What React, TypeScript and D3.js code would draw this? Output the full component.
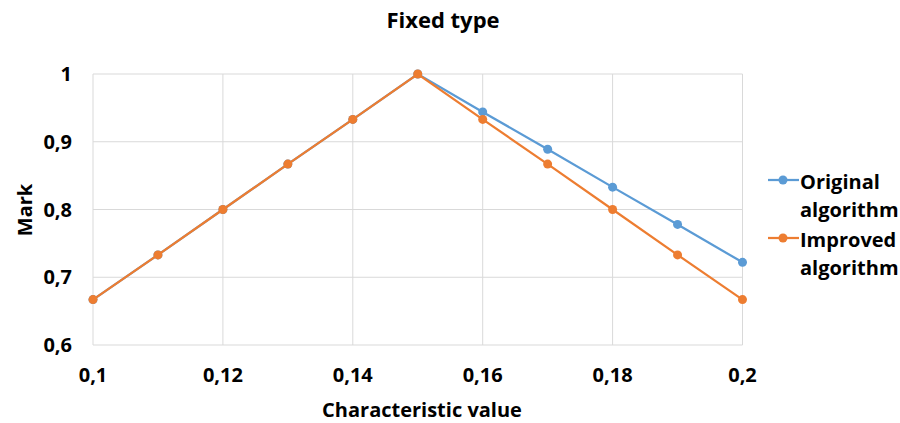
import React from "react";
import * as d3 from "d3";

const xValues = [0.1, 0.11, 0.12, 0.13, 0.14, 0.15, 0.16, 0.17, 0.18, 0.19, 0.2];
const originalValues = [0.667, 0.733, 0.8, 0.867, 0.933, 1, 0.944, 0.889, 0.833, 0.778, 0.722];
const improvedValues = [0.667, 0.733, 0.8, 0.867, 0.933, 1, 0.933, 0.867, 0.8, 0.733, 0.667];
const xTicks = [0.1, 0.12, 0.14, 0.16, 0.18, 0.2];
const yTicks = [0.6, 0.7, 0.8, 0.9, 1];
const seriesNames = [["Original", "algorithm"], ["Improved", "algorithm"]];
const seriesColors = ["#5B9BD5", "#ED7D31"];

const W = 900;
const H = 423;
const FONT = "'Open Sans', sans-serif";

function fmt(v: number): string {
  return String(+v.toFixed(2)).replace(".", ",");
}

export default function App() {
  const x = d3.scaleLinear().domain([0.1, 0.2]).range([93, 742.5]);
  const y = d3.scaleLinear().domain([0.6, 1]).range([345, 74]);
  const line = d3
    .line<number>()
    .x((_, i) => x(xValues[i]))
    .y((d) => y(d));
  const series = [originalValues, improvedValues];
  const legendY = [180, 238];

  return (
    <svg
      width={W}
      height={H}
      style={{ position: "absolute", left: 0, top: 0, background: "#fff" }}
      fontFamily={FONT}
      fontWeight="bold"
    >
      <rect width={W} height={H} fill="#fff" />
      {/* gridlines */}
      {yTicks.map((t) => (
        <line key={"gy" + t} x1={x(0.1)} x2={x(0.2)} y1={y(t)} y2={y(t)} stroke="#D9D9D9" strokeWidth={1} />
      ))}
      {xTicks.map((t) => (
        <line key={"gx" + t} x1={x(t)} x2={x(t)} y1={y(0.6)} y2={y(1)} stroke="#D9D9D9" strokeWidth={1} />
      ))}
      {/* y tick labels */}
      {yTicks.map((t) => (
        <text key={"ty" + t} x={72} y={y(t)} dy="0.36em" textAnchor="end" fontSize={20} fill="#000">
          {fmt(t)}
        </text>
      ))}
      {/* x tick labels */}
      {xTicks.map((t) => (
        <text key={"tx" + t} x={x(t)} y={382} textAnchor="middle" fontSize={20} fill="#000">
          {fmt(t)}
        </text>
      ))}
      {/* series */}
      {series.map((s, si) => (
        <g key={"s" + si}>
          <path d={line(s) || ""} fill="none" stroke={seriesColors[si]} strokeWidth={2.25} />
          {s.map((v, i) => (
            <circle key={i} cx={x(xValues[i])} cy={y(v)} r={4.5} fill={seriesColors[si]} />
          ))}
        </g>
      ))}
      {/* title */}
      <text x={443} y={28} textAnchor="middle" fontSize={22} fill="#000">
        Fixed type
      </text>
      {/* axis titles */}
      <text x={422} y={417} textAnchor="middle" fontSize={20} fill="#000">
        Characteristic value
      </text>
      <text transform="translate(32,210) rotate(-90)" textAnchor="middle" fontSize={20} fill="#000">
        Mark
      </text>
      {/* legend */}
      {seriesNames.map((names, i) => (
        <g key={"l" + i}>
          <line x1={768} x2={799} y1={legendY[i]} y2={legendY[i]} stroke={seriesColors[i]} strokeWidth={2.25} />
          <circle cx={783} cy={legendY[i]} r={4.5} fill={seriesColors[i]} />
          <text x={800} y={legendY[i] + 9} fontSize={20} fill="#000">
            <tspan x={800}>{names[0]}</tspan>
            <tspan x={800} dy={28}>{names[1]}</tspan>
          </text>
        </g>
      ))}
    </svg>
  );
}
